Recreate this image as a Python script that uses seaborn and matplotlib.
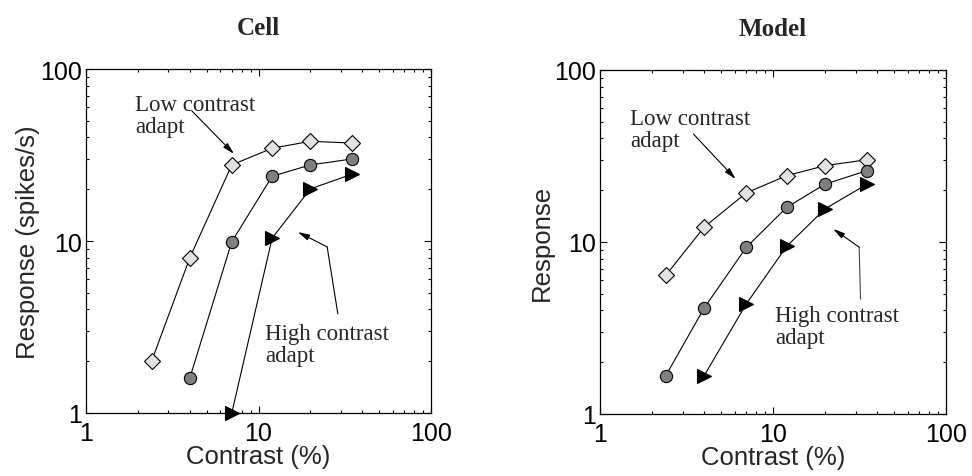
import matplotlib
matplotlib.use("Agg")
import matplotlib.pyplot as plt
import seaborn as sns
from matplotlib.ticker import NullFormatter

# ---- data ----
cell_low_x = [2.4, 4, 7, 12, 20, 35]
cell_low_y = [2.0, 8.0, 27.7, 34.6, 38.0, 37.1]
cell_mid_x = [4, 7, 12, 20, 35]
cell_mid_y = [1.6, 9.9, 23.8, 27.7, 30.0]
cell_high_x = [7, 12, 20, 35]
cell_high_y = [1.0, 10.4, 20.1, 24.5]

model_low_x = [2.4, 4, 7, 12, 20, 35]
model_low_y = [6.4, 12.2, 19.3, 24.3, 27.8, 30.1]
model_mid_x = [2.4, 4, 7, 12, 20, 35]
model_mid_y = [1.67, 4.13, 9.3, 15.9, 21.7, 26.0]
model_high_x = [4, 7, 12, 20, 35]
model_high_y = [1.67, 4.36, 9.44, 15.6, 21.7]

titles = ["Cell", "Model"]
ylabels = ["Response (spikes/s)", "Response"]
xlabel = "Contrast (%)"
tick_vals = [1, 10, 100]
tick_labels = ["1", "10", "100"]

sns.set_style("ticks")
plt.rcParams["font.family"] = ["Liberation Sans", "DejaVu Sans"]

fig = plt.figure(figsize=(9.72, 4.77), dpi=100)
ax1 = fig.add_axes([86 / 972, 1 - 414 / 477, 345 / 972, 344 / 477])
ax2 = fig.add_axes([600 / 972, 1 - 415 / 477, 346 / 972, 344 / 477])

line_kw = dict(color="black", linewidth=0.8, estimator=None, sort=False,
               clip_on=False, zorder=3, legend=False)
diamond = dict(marker="D", markersize=8, markerfacecolor="#e2e2e2",
               markeredgecolor="black", markeredgewidth=0.8)
circle = dict(marker="o", markersize=8.8, markerfacecolor="#7f7f7f",
              markeredgecolor="black", markeredgewidth=0.8)
tri = dict(marker=">", markersize=9.5, markerfacecolor="black",
           markeredgecolor="black", markeredgewidth=0.8)

series = [
    (ax1, [(cell_low_x, cell_low_y, diamond), (cell_mid_x, cell_mid_y, circle),
           (cell_high_x, cell_high_y, tri)]),
    (ax2, [(model_low_x, model_low_y, diamond), (model_mid_x, model_mid_y, circle),
           (model_high_x, model_high_y, tri)]),
]

for ax, lst in series:
    for xs, ys, mk in lst:
        sns.lineplot(x=xs, y=ys, ax=ax, **line_kw, **mk)

for i, ax in enumerate([ax1, ax2]):
    ax.set_xscale("log")
    ax.set_yscale("log")
    ax.set_xlim(1, 100)
    ax.set_ylim(1, 100)
    ax.set_xticks(tick_vals)
    ax.set_xticklabels(tick_labels)
    ax.set_yticks(tick_vals)
    ax.set_yticklabels(tick_labels)
    ax.xaxis.set_minor_formatter(NullFormatter())
    ax.yaxis.set_minor_formatter(NullFormatter())
    ax.tick_params(which="both", direction="in", top=True, right=True,
                   width=0.8, colors="black", labelsize=18)
    ax.tick_params(which="major", length=5)
    ax.tick_params(which="minor", length=2.5)
    ax.tick_params(axis="x", pad=6)
    ax.tick_params(axis="y", pad=3)
    for s in ax.spines.values():
        s.set_linewidth(0.9)
        s.set_color("black")
        s.set_visible(True)
    ax.set_xlabel(xlabel, fontsize=18.5, labelpad=-1)
    ax.set_ylabel(ylabels[i], fontsize=18.5, labelpad=0)
    ax.set_title(titles[i], fontsize=18, fontweight="bold",
                 family=["Liberation Serif", "DejaVu Serif"], pad=25)

serif = ["Liberation Serif", "DejaVu Serif"]
arrow = dict(arrowstyle="-|>,head_length=0.7,head_width=0.18", color="black",
             lw=0.8, shrinkA=0, shrinkB=0)
plain = dict(arrowstyle="-", color="black", lw=0.8, shrinkA=0, shrinkB=0)
ann_fs = 16.5
ls = 1.08

# Cell annotations
ax1.text(0.142, 0.927, "Low contrast\nadapt", transform=ax1.transAxes,
         family=serif, fontsize=ann_fs, va="top", ha="left", linespacing=ls)
ax1.annotate("", xy=(0.429, 0.753), xytext=(0.307, 0.878),
             xycoords="axes fraction", textcoords="axes fraction", arrowprops=arrow)
ax1.text(0.519, 0.262, "High contrast\nadapt", transform=ax1.transAxes,
         family=serif, fontsize=ann_fs, va="top", ha="left", linespacing=ls)
ax1.annotate("", xy=(0.699, 0.483), xytext=(0.730, 0.288),
             xycoords="axes fraction", textcoords="axes fraction", arrowprops=plain)
ax1.annotate("", xy=(0.614, 0.526), xytext=(0.699, 0.483),
             xycoords="axes fraction", textcoords="axes fraction", arrowprops=arrow)

# Model annotations
ax2.text(0.087, 0.89, "Low contrast\nadapt", transform=ax2.transAxes,
         family=serif, fontsize=ann_fs, va="top", ha="left", linespacing=ls)
ax2.annotate("", xy=(0.392, 0.683), xytext=(0.270, 0.814),
             xycoords="axes fraction", textcoords="axes fraction", arrowprops=arrow)
ax2.text(0.506, 0.318, "High contrast\nadapt", transform=ax2.transAxes,
         family=serif, fontsize=ann_fs, va="top", ha="left", linespacing=ls)
ax2.annotate("", xy=(0.749, 0.485), xytext=(0.753, 0.334),
             xycoords="axes fraction", textcoords="axes fraction",
             arrowprops=dict(plain, color="#444444"))
ax2.annotate("", xy=(0.674, 0.538), xytext=(0.749, 0.485),
             xycoords="axes fraction", textcoords="axes fraction", arrowprops=arrow)

fig.savefig("out.png", dpi=100)
